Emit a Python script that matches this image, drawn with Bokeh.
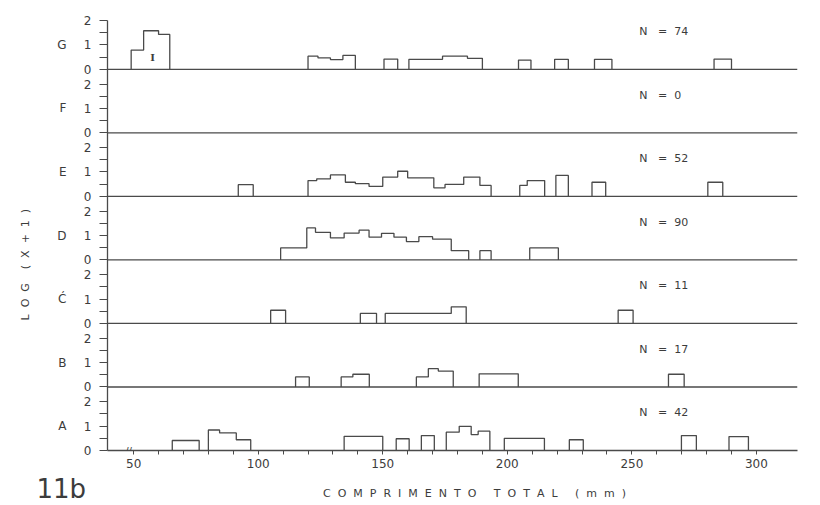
import math
from bokeh.plotting import figure
from bokeh.layouts import column, row
from bokeh.models import (Range1d, FixedTicker, LinearAxis, CustomJSTickFormatter,
                          Span, Label)
from bokeh.core.properties import value
from bokeh.embed import file_html
from bokeh.resources import INLINE

# ---------------- data ----------------
panel_letters = ["G", "F", "E", "D", "Ć", "B", "A"]          # top to bottom
n_values = [74, 0, 52, 90, 11, 17, 42]

G_left   = [49, 54, 60, 120, 124, 129, 134, 150.5, 160.5, 174, 184, 204.5, 219, 235, 283]
G_right  = [54, 60, 64.5, 124, 129, 134, 139, 156, 174, 184, 190, 209.5, 224.5, 242, 290]
G_height = [0.79, 1.58, 1.43, 0.54, 0.47, 0.40, 0.57, 0.42, 0.41, 0.54, 0.45, 0.38, 0.41, 0.41, 0.42]

F_left, F_right, F_height = [], [], []

E_left   = [92, 120, 123.5, 129, 135, 139, 144.5, 150, 156, 160, 170.5, 175, 182.5, 189, 205, 208, 219.5, 234, 280.5]
E_right  = [98, 123.5, 129, 135, 139, 144.5, 150, 156, 160, 170.5, 175, 182.5, 189, 193.5, 208, 215, 224.5, 239.5, 286.5]
E_height = [0.48, 0.65, 0.72, 0.88, 0.58, 0.52, 0.41, 0.79, 1.03, 0.76, 0.35, 0.49, 0.79, 0.45, 0.45, 0.65, 0.86, 0.58, 0.58]

D_left   = [109, 119.5, 123, 129, 134.5, 140.5, 144.5, 149.5, 154.5, 159.5, 164.5, 170, 177.5, 189, 209]
D_right  = [119.5, 123, 129, 134.5, 140.5, 144.5, 149.5, 154.5, 159.5, 164.5, 170, 177.5, 184.5, 193.5, 220.5]
D_height = [0.49, 1.31, 1.13, 0.9, 1.1, 1.22, 0.93, 1.09, 0.93, 0.75, 0.95, 0.85, 0.38, 0.38, 0.49]

C_left   = [105, 141, 151, 177.5, 244.5]
C_right  = [111, 147.5, 177.5, 183.5, 250.5]
C_height = [0.54, 0.41, 0.41, 0.68, 0.54]

B_left   = [115, 133.3, 138, 163.5, 168.3, 172.3, 188.7, 264.7]
B_right  = [120.5, 138, 144.6, 168.3, 172.3, 178.3, 204.4, 271]
B_height = [0.41, 0.41, 0.52, 0.41, 0.75, 0.65, 0.54, 0.52]

A_left   = [65.5, 80, 84.5, 91.2, 134.5, 155.4, 165.5, 175.5, 180.7, 185.5, 188.3, 198.8, 224.9, 269.9, 289]
A_right  = [76.3, 84.5, 91.2, 97, 150, 160.6, 170.7, 180.7, 185.5, 188.3, 193, 214.9, 230.5, 275.9, 296.8]
A_height = [0.41, 0.84, 0.72, 0.44, 0.58, 0.48, 0.61, 0.75, 0.99, 0.65, 0.79, 0.5, 0.44, 0.61, 0.57]

x_major_ticks = [50, 100, 150, 200, 250, 300]
x_minor_ticks = [60, 70, 80, 90, 110, 120, 130, 140, 160, 170, 180, 190,
                 210, 220, 230, 240, 260, 270, 280, 290]
y_major_ticks = [0, 1, 2]
y_minor_ticks = [0.5, 1.5]

x_title_words = ["COMPRIMENTO", "TOTAL", "(mm)"]
y_title_words = ["LOG", "(X+1)"]
fig_tag = "11b"

panels = [
    (G_left, G_right, G_height),
    (F_left, F_right, F_height),
    (E_left, E_right, E_height),
    (D_left, D_right, D_height),
    (C_left, C_right, C_height),
    (B_left, B_right, B_height),
    (A_left, A_right, A_height),
]

# ---------------- layout / style ----------------
W, H = 820, 505
LW = 45            # left strip (y title)
MH = 472           # main figure height
BH = H - MH        # bottom strip (x title, figure tag)
FL, FR, FT, FB = 107, 797, 20, 450
X0, X1 = 39.5, 316.5
STEP = 2.6
NP = len(panel_letters)
YMAX = (NP - 1) * STEP + 2
INK = "#4a4a4a"
TXT = "#3c3c3c"
FONT = "DejaVu Sans"
NB = "\u00a0"


def spaced(words, letter_gap=2, word_gap=5):
    return (NB * word_gap).join((NB * letter_gap).join(w) for w in words)


def dx(px):
    return X0 + (px - FL) * (X1 - X0) / (FR - FL)


def dy(py):
    return (FB - py) * YMAX / (FB - FT)


def strip(w, h):
    f = figure(width=w, height=h, x_range=Range1d(0, w), y_range=Range1d(0, h),
               output_backend="svg", toolbar_location=None,
               x_axis_location=None, y_axis_location=None, min_border=0)
    f.outline_line_color = None
    f.xgrid.grid_line_color = None
    f.ygrid.grid_line_color = None
    f.background_fill_color = "white"
    f.border_fill_color = "white"
    return f


p = figure(width=W - LW, height=MH, x_range=Range1d(X0, X1), y_range=Range1d(0, YMAX),
           output_backend="svg", toolbar_location=None,
           min_border_left=FL - LW, min_border_right=W - FR,
           min_border_top=FT, min_border_bottom=MH - FB)
p.outline_line_color = None
p.xgrid.grid_line_color = None
p.ygrid.grid_line_color = None
p.background_fill_color = "white"
p.border_fill_color = "white"

offsets = [(NP - 1 - i) * STEP for i in range(NP)]

# numeric y axis (0,1,2 per panel)
ya = p.yaxis[0]
ya.ticker = FixedTicker(ticks=[o + t for o in offsets for t in y_major_ticks],
                        minor_ticks=[o + t for o in offsets for t in y_minor_ticks])
ya.formatter = CustomJSTickFormatter(args=dict(step=STEP), code="""
    const k = Math.floor((tick + 0.05) / step);
    return String(Math.round(tick - k * step));
""")
ya.axis_line_color = INK
ya.axis_line_width = 1.3
ya.major_tick_line_color = INK
ya.minor_tick_line_color = INK
ya.major_tick_out = 8
ya.major_tick_in = 0
ya.minor_tick_out = 8
ya.minor_tick_in = 0
ya.major_label_text_font = FONT
ya.major_label_text_font_size = "12px"
ya.major_label_text_color = TXT
ya.major_label_standoff = 8

# letter axis
la = LinearAxis(ticker=FixedTicker(ticks=[o + 1 for o in offsets]),
                formatter=CustomJSTickFormatter(
                    args=dict(step=STEP, letters=panel_letters[::-1]),
                    code="return letters[Math.round((tick - 1) / step)];"))
la.axis_line_color = None
la.major_tick_line_color = None
la.minor_tick_line_color = None
la.major_label_text_font = FONT
la.major_label_text_font_size = "12px"
la.major_label_text_color = TXT
la.major_label_standoff = 8
p.add_layout(la, "left")

# x axis
xa = p.xaxis[0]
xa.ticker = FixedTicker(ticks=x_major_ticks, minor_ticks=x_minor_ticks)
xa.axis_line_color = INK
xa.axis_line_width = 1.3
xa.major_tick_line_color = INK
xa.minor_tick_line_color = INK
xa.major_tick_out = 4
xa.major_tick_in = 0
xa.minor_tick_out = 4
xa.minor_tick_in = 0
xa.major_label_text_font = FONT
xa.major_label_text_font_size = "12px"
xa.major_label_text_color = TXT
xa.major_label_standoff = 4

# panel baselines
for o in offsets[:-1]:
    p.add_layout(Span(location=o, dimension="width", line_color=INK, line_width=1.3))

# histogram outlines (step outlines of contiguous bins)
xs, ys = [], []
for (left, right, height), base in zip(panels, offsets):
    cur_x, cur_y, end = None, None, None
    for l, r, h in zip(left, right, height):
        if cur_x is not None and abs(l - end) < 1e-6:
            cur_x += [l, r]
            cur_y += [base + h, base + h]
        else:
            if cur_x is not None:
                cur_x.append(end); cur_y.append(base)
                xs.append(cur_x); ys.append(cur_y)
            cur_x = [l, l, r]
            cur_y = [base, base + h, base + h]
        end = r
    if cur_x is not None:
        cur_x.append(end); cur_y.append(base)
        xs.append(cur_x); ys.append(cur_y)

p.multi_line(xs, ys, line_color=INK, line_width=1.3)

# N labels
for n, o in zip(n_values, offsets):
    p.add_layout(Label(x=253, y=o + 1.55, text="N" + NB * 3 + "=" + NB * 2 + str(n),
                       text_font=FONT, text_font_size="11px", text_color=TXT,
                       text_align="left", text_baseline="middle"))

# mark inside G's tallest bar
p.add_layout(Label(x=dx(152), y=dy(57), text="I", text_font="DejaVu Serif",
                   text_font_size="10px", text_font_style="bold", text_color=TXT,
                   text_align="center", text_baseline="middle"))

# axis break mark
p.add_layout(Label(x=dx(128), y=dy(451), text="//", text_font=FONT,
                   text_font_size="10px", text_color=TXT,
                   text_align="center", text_baseline="middle"))

# left strip: y title
left = strip(LW, MH)
left.text(x=[25], y=[MH - 268], text=[spaced(y_title_words, 2, 4)], angle=math.pi / 2,
          text_font=value(FONT), text_font_size="11px", text_color=TXT,
          text_align="center", text_baseline="middle")

# bottom strip: figure tag and x title
bottom = strip(W, BH)
bottom.text(x=[36], y=[H - 488], text=[fig_tag], text_font=value(FONT),
            text_font_size="26px", text_color=TXT,
            text_align="left", text_baseline="middle")
bottom.text(x=[474], y=[H - 493], text=[spaced(x_title_words, 2, 5)],
            text_font=value(FONT), text_font_size="11px", text_color=TXT,
            text_align="center", text_baseline="middle")

layout = column(row(left, p, spacing=0), bottom, spacing=0)
open("out.html", "w").write(file_html(layout, INLINE))
